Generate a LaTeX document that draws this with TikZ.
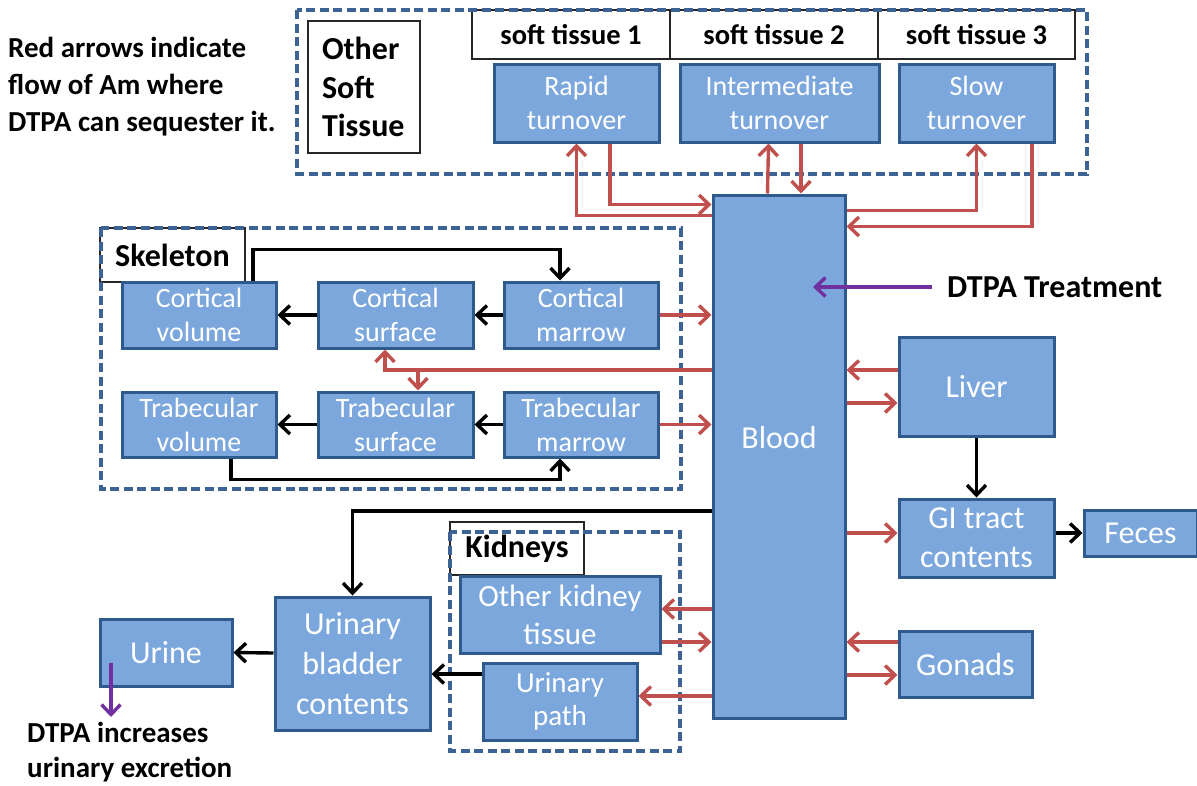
\documentclass[tikz,border=0pt]{standalone}
\usepackage{fontspec}
\setmainfont{Carlito}
\usetikzlibrary{arrows.meta}
\definecolor{boxfill}{HTML}{7BA7DD}
\definecolor{boxline}{HTML}{2E5A8E}
\definecolor{flowred}{HTML}{C0504D}
\definecolor{dashblue}{HTML}{3C6394}
\definecolor{dtpa}{HTML}{7030A0}

\begin{document}
\begin{tikzpicture}[x=1pt,y=-1pt,
  comp/.style={draw=boxline,fill=boxfill,line width=3pt,text=white,align=center,
    inner sep=0pt,font=\fontsize{28}{34}\selectfont},
  big/.style={font=\fontsize{32}{39}\selectfont},
  lbl/.style={draw=black!85,fill=white,line width=1.5pt,inner sep=0pt,
    font=\bfseries\fontsize{32}{38.5}\selectfont},
  grp/.style={draw=dashblue,line width=3.2pt,dash pattern=on 9pt off 4.5pt},
  arr/.style={line width=3.4pt,-{Straight Barb[length=10pt,width=19pt]}},
  redarr/.style={arr,draw=flowred},
  blkarr/.style={arr,draw=black},
  purarr/.style={arr,draw=dtpa}]
  \useasboundingbox (0,0) rectangle (1197,785);

  % notes
  \node[anchor=west,align=left,inner sep=0pt,font=\bfseries\fontsize{29}{37}\selectfont] (note) at (8,87)
    {Red arrows indicate\\flow of Am where\\DTPA can sequester it.};
  \node[anchor=west,inner sep=0pt,font=\bfseries\fontsize{32}{38}\selectfont] (treat) at (947,287) {DTPA Treatment};
  \node[anchor=west,align=left,inner sep=0pt,font=\bfseries\fontsize{29}{35}\selectfont] (excr) at (27,752)
    {DTPA increases\\urinary excretion};

  % labels of the groups
  \node[lbl,minimum width=112pt,minimum height=132pt,align=left,text width=84pt] (ostlbl) at (364,87) {Other\\Soft\\Tissue};
  \node[lbl,minimum width=198pt,minimum height=49pt,font=\bfseries\fontsize{28.5}{34}\selectfont] (st1) at (571,34.5) {soft tissue 1};
  \node[lbl,minimum width=208pt,minimum height=49pt,font=\bfseries\fontsize{28.5}{34}\selectfont] (st2) at (774,34.5) {soft tissue 2};
  \node[lbl,minimum width=197pt,minimum height=49pt,font=\bfseries\fontsize{28.5}{34}\selectfont] (st3) at (976.5,34.5) {soft tissue 3};
  \node[lbl,minimum width=145pt,minimum height=54pt] (skellbl) at (172.5,255) {Skeleton};
  \node[lbl,minimum width=134pt,minimum height=53pt] (kidlbl) at (517,548.5) {Kidneys};

  % dashed groups
  \draw[grp] (297,10) rectangle (1087,174);
  \draw[grp] (101,228) rectangle (681,489);
  \draw[grp] (450,532) rectangle (680,751);

  % compartments
  \node[comp,minimum width=165pt,minimum height=78pt] (rapid) at (576.5,103) {Rapid\\turnover};
  \node[comp,minimum width=199pt,minimum height=78pt] (inter) at (779.5,103) {Intermediate\\turnover};
  \node[comp,minimum width=155pt,minimum height=78pt] (slow) at (976.5,103) {Slow\\turnover};
  \node[comp,big,minimum width=132pt,minimum height=523pt] (blood) at (779,456.5) {\raisebox{38pt}{Blood}};

  \node[comp,minimum width=154pt,minimum height=66pt] (cv) at (199,315) {Cortical\\volume};
  \node[comp,minimum width=155pt,minimum height=66pt] (cs) at (395.5,315) {Cortical\\surface};
  \node[comp,minimum width=154pt,minimum height=66pt] (cm) at (581,315) {Cortical\\marrow};
  \node[comp,minimum width=154pt,minimum height=65pt] (tv) at (199,424.5) {Trabecular\\volume};
  \node[comp,minimum width=155pt,minimum height=65pt] (ts) at (395.5,424.5) {Trabecular\\surface};
  \node[comp,minimum width=154pt,minimum height=65pt] (tm) at (581,424.5) {Trabecular\\marrow};

  \node[comp,big,minimum width=155pt,minimum height=99pt] (liver) at (976.5,386.5) {Liver};
  \node[comp,big,minimum width=155pt,minimum height=78pt] (gi) at (976.5,538) {GI tract\\contents};
  \node[comp,big,minimum width=113pt,minimum height=46pt] (feces) at (1140.5,533) {Feces};
  \node[comp,big,minimum width=133pt,minimum height=66pt] (gonads) at (965.5,664) {Gonads};

  \node[comp,font=\fontsize{31}{38}\selectfont,minimum width=200pt,minimum height=77pt] (okt) at (560,614.5) {Other kidney\\tissue};
  \node[comp,font=\fontsize{29}{33}\selectfont,minimum width=154pt,minimum height=77pt] (upath) at (560,701.5) {Urinary\\path};
  \node[comp,big,font=\fontsize{32}{40}\selectfont,minimum width=155pt,minimum height=133pt] (ubc) at (352.5,663.5) {Urinary\\bladder\\contents};
  \node[comp,big,minimum width=132pt,minimum height=67pt] (urine) at (166,652.5) {Urine};

  \coordinate (dose) at (813,287);
  \coordinate (excout) at (111,717);

  % soft tissue exchange
  \draw[redarr] ([yshift=-22pt]blood.north west) -| (rapid.south);
  \draw[redarr] ([xshift=33.5pt]rapid.south) |- ([yshift=-11pt]blood.north west);
  \draw[redarr] ([xshift=-11.5pt]blood.north) -- ([xshift=-11pt]inter.south);
  \draw[redarr] ([xshift=21.5pt]inter.south) -- ([xshift=22pt]blood.north);
  \draw[redarr] ([yshift=-17pt]blood.north east) -| (slow.south);
  \draw[redarr] ([xshift=55.5pt]slow.south) |- ([yshift=-33pt]blood.north east);

  % skeleton
  \draw[blkarr] (cm.west) -- (cs.east);
  \draw[blkarr] (cs.west) -- (cv.east);
  \draw[blkarr] (tm.west) -- (ts.east);
  \draw[blkarr] (ts.west) -- (tv.east);
  \draw[blkarr] ([xshift=54pt]cv.north) -- ++(0,-31) -| ([xshift=-21pt]cm.north);
  \draw[blkarr] ([xshift=32pt]tv.south) -- ++(0,21) -| ([xshift=-21pt]tm.south);
  \draw[redarr] (cm.east) -- (cm.east -| blood.west);
  \draw[redarr] (tm.east) -- (tm.east -| blood.west);
  \draw[redarr] ([yshift=86.5pt]blood.west) -| ([xshift=-10.5pt]cs.south);
  \draw[redarr] ([xshift=22.5pt,yshift=-22pt]cs.south) -- ([xshift=22.5pt]ts.north);

  % liver, gut, gonads
  \draw[redarr] ([yshift=16.5pt]liver.west) -- ([yshift=86.5pt]blood.east);
  \draw[redarr] ([yshift=53.5pt]blood.east) -- ([yshift=-16.5pt]liver.west);
  \draw[blkarr] (liver.south) -- (gi.north);
  \draw[redarr] ([yshift=-76.5pt]blood.east) -- ([yshift=5pt]gi.west);
  \draw[blkarr] (gi.east |- feces.west) -- (feces.west);
  \draw[redarr] ([yshift=22pt]gonads.west) -- ([yshift=-185.5pt]blood.east);
  \draw[redarr] ([yshift=-218.5pt]blood.east) -- ([yshift=-11pt]gonads.west);

  % kidneys and urine
  \draw[redarr] ([yshift=-152.5pt]blood.west) -- ([yshift=5.5pt]okt.east);
  \draw[redarr] ([yshift=-27.5pt]okt.east) -- ([yshift=-185.5pt]blood.west);
  \draw[redarr] ([yshift=-239.5pt]blood.west) -- ([yshift=5.5pt]upath.east);
  \draw[blkarr] ([yshift=-54.5pt]blood.west) -| (ubc.north);
  \draw[blkarr] ([yshift=27.5pt]upath.west) -- ([yshift=-10.5pt]ubc.east);
  \draw[blkarr] ([yshift=10.5pt]ubc.west) -- (urine.east);

  % DTPA
  \draw[purarr] ([xshift=-15pt]treat.west) -- (dose);
  \draw[purarr] ([xshift=-55pt,yshift=-10.5pt]urine.center) -- (excout);
\end{tikzpicture}
\end{document}
